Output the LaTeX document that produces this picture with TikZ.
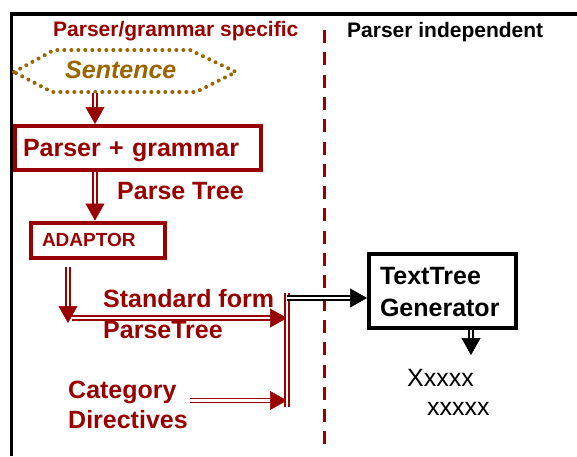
\documentclass[tikz,border=0pt]{standalone}
\usepackage{fontspec}
\setmainfont{Liberation Sans}
\usetikzlibrary{arrows.meta,calc}
\definecolor{dred}{RGB}{153,0,0}
\definecolor{gold}{RGB}{153,102,0}
\begin{document}
\begin{tikzpicture}[x=1pt,y=-1pt,
  lbl/.style={anchor=base west, inner sep=0pt, font=\bfseries\fontsize{25}{30}\selectfont},
  head/.style={anchor=base west, inner sep=0pt, font=\bfseries\fontsize{21}{25}\selectfont},
  rbox/.style={draw=dred, line width=4pt, text=dred, align=left, inner ysep=0pt, text depth=0pt},
  kbox/.style={draw=black, line width=4pt, align=left, inner ysep=0pt},
  dblr/.style={draw=dred, line width=1.7pt, double=white, double distance=2.4pt},
  dblk/.style={draw=black, line width=1.7pt, double=white, double distance=2.4pt},
  shaftr/.style={dblr, shorten >=15pt},
  shaftk/.style={dblk, shorten >=15pt},
  headr/.style={draw=dred, line width=0.5pt, -{Triangle[length=17pt,width=19pt]}},
  headk/.style={draw=black, line width=0.5pt, -{Triangle[length=17pt,width=19pt]}},
  divider/.style={draw=dred, line width=3.3pt, dash pattern=on 13pt off 9.3pt},
  dotted hex/.style={draw=gold, line width=4pt, line cap=round, dash pattern=on 0pt off 7pt}
]
\useasboundingbox (0,0) rectangle (577,456);
% frame (top and left)
\draw[line width=3.5pt] (11.5,456) -- (11.5,14) -- (577,14);

% headings
\node[head, text=dred] (h1) at (53,36) {Parser/grammar specific};
\node[head] (h2) at (347,37.5) {Parser independent};

% divider
\coordinate (dv1) at (324.5,30);
\coordinate (dv2) at (324.5,447);
\draw[divider] (dv1) -- (dv2);

% Sentence
\draw[dotted hex] (14,72) -- (54,50) -- (190,50) -- (236,72) -- (196,92) -- (52,92) -- cycle;
\node[anchor=base west, inner sep=0pt, text=gold, font=\bfseries\itshape\fontsize{25}{30}\selectfont] (sent) at (65,78.3) {Sentence};
\coordinate (sb) at (95,93);

% boxes
\node[rbox, font=\bfseries\fontsize{25}{30}\selectfont, text width=230pt, inner xsep=8pt,
      minimum height=44pt, text height=17.5pt] (pg) at (138,148) {Parser + grammar};
\node[rbox, font=\bfseries\fontsize{19}{23}\selectfont, text width=112pt, inner xsep=11pt,
      minimum height=35pt, text height=13.5pt] (ad) at (98,240) {ADAPTOR};
\node[kbox, font=\bfseries\fontsize{25}{32}\selectfont, text width=125pt, inner xsep=11pt,
      minimum height=74pt, text height=18pt, text depth=32pt] (ttg) at (442.5,291) {TextTree\\Generator};

% labels
\node[lbl, text=dred] (pt) at (117,199) {Parse Tree};
\node[lbl, text=dred] (sf1) at (103,307) {Standard form};
\node[lbl, text=dred] (sf2) at (103,338) {ParseTree};
\node[lbl, text=dred] (cd1) at (68,398) {Category};
\node[lbl, text=dred] (cd2) at (68,428) {Directives};
\node[anchor=base west, inner sep=0pt, font=\fontsize{25}{30}\selectfont] (x1) at (407,386) {Xxxxx};
\node[anchor=base west, inner sep=0pt, font=\fontsize{25}{30}\selectfont] (x2) at (427,415) {xxxxx};

% coordinates
\coordinate (c1) at (95,0);
\coordinate (d1) at (68,267);
\coordinate (d2) at (68,323);
\coordinate (hs) at (72,318);
\coordinate (bt) at (287,293);
\coordinate (bb) at (287,407);
\coordinate (cs) at (190,400.5);
\coordinate (bk) at (287,298);
\coordinate (ko) at (471,0);
\coordinate (ke) at (471,355);

% connectors: double shaft + filled head
\draw[shaftr] (sb) -- (sb |- pg.north);
\draw[headr] ($(sb |- pg.north)+(0,-2)$) -- (sb |- pg.north);
\draw[shaftr] (c1 |- pg.south) -- (c1 |- ad.north);
\draw[headr] ($(c1 |- ad.north)+(0,-2)$) -- (c1 |- ad.north);
\draw[shaftr] (d1) -- (d2);
\draw[headr] ($(d2)+(0,-2)$) -- (d2);
\draw[shaftr] (hs) -- (hs -| bt);
\draw[headr] ($(hs -| bt)+(-2,0)$) -- (hs -| bt);
\draw[shaftr] (cs) -- (cs -| bt);
\draw[headr] ($(cs -| bt)+(-2,0)$) -- (cs -| bt);
\draw[dblr] (bt) -- (bb);
\draw[shaftk] (bk) -- (bk -| ttg.west);
\draw[headk] ($(bk -| ttg.west)+(-2,0)$) -- (bk -| ttg.west);
\draw[shaftk] (ko |- ttg.south) -- (ke);
\draw[headk] ($(ke)+(0,-2)$) -- (ke);
\end{tikzpicture}
\end{document}
